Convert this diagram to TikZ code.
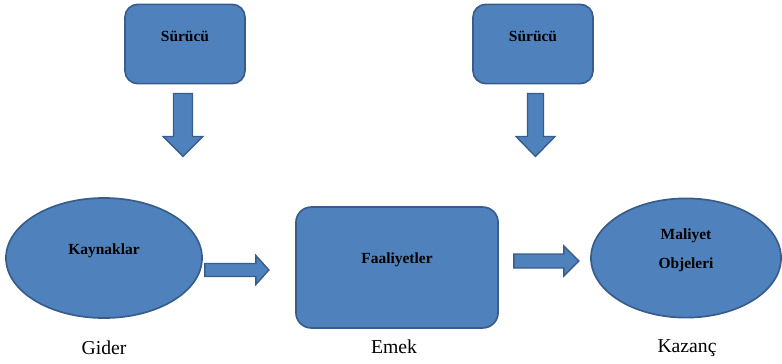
\documentclass[tikz,border=0pt]{standalone}
\usepackage{fontspec}
\setmainfont{Liberation Serif}
\usetikzlibrary{shapes.geometric,calc}
\definecolor{officeblue}{RGB}{79,129,189}
\definecolor{officeedge}{RGB}{56,93,138}

\tikzset{
  shapebase/.style={fill=officeblue,draw=officeedge,line width=1.2pt,inner sep=0pt},
  surbox/.style={shapebase,rectangle,rounded corners=0.32cm,minimum width=3cm,minimum height=1.98cm},
  actbox/.style={shapebase,rectangle,rounded corners=0.38cm,minimum width=5.05cm,minimum height=3.02cm},
  oval/.style={shapebase,ellipse},
  boxtext/.style={font=\fontsize{11}{20.6}\selectfont\bfseries,align=center,yshift=0.19cm},
  undertext/.style={font=\fontsize{14}{16}\selectfont},
  blockarrow/.style={fill=officeblue,draw=officeedge,line width=1pt,line join=miter}
}

\begin{document}
\begin{tikzpicture}[x=0.025cm,y=-0.025cm]
\useasboundingbox (0,0) rectangle (782,363);

% Drivers on top
\node[surbox,label={[boxtext]center:Sürücü}] (sur1) at (185,44) {};
\node[surbox,label={[boxtext]center:Sürücü}] (sur2) at (533,44) {};

% Main chain
\node[oval,minimum width=4.9cm,minimum height=3cm,label={[boxtext]center:Kaynaklar}] (kay) at (104,258) {};
\node[actbox,label={[boxtext]center:Faaliyetler}] (faal) at (397,267.5) {};
\node[oval,minimum width=4.75cm,minimum height=2.98cm,label={[boxtext]center:Maliyet\\Objeleri}] (obj) at (686,258) {};

% Words below
\node[undertext] (gider) at (104,348) {Gider};
\node[undertext] (emek) at (394,347) {Emek};
\node[undertext] (kazanc) at (687,348) {Kazanç};

% Down arrows
\coordinate (d1) at ($(sur1.south)+(-2,9)$);
\coordinate (d2) at ($(sur2.south)+(2.5,9)$);
\draw[blockarrow] (d1) ++(-9.5,0) -- ++(19,0) -- ++(0,43) -- ++(10.5,0) -- ++(-20,20)
  -- ++(-20,-20) -- ++(10.5,0) -- cycle;
\draw[blockarrow] (d2) ++(-8,0) -- ++(16,0) -- ++(0,43) -- ++(11.5,0) -- ++(-19.5,20)
  -- ++(-19.5,-20) -- ++(11.5,0) -- cycle;

% Right arrows
\coordinate (r1) at ($(kay.east)+(2,12)$);
\coordinate (r2) at ($(faal.east)+(15,-6.5)$);
\draw[blockarrow] (r1) ++(0,-6.5) -- ++(51,0) -- ++(0,-8) -- ++(13,14.5) -- ++(-13,14.5)
  -- ++(0,-8) -- ++(-51,0) -- cycle;
\draw[blockarrow] (r2) ++(0,-7) -- ++(50,0) -- ++(0,-8) -- ++(15,15) -- ++(-15,15)
  -- ++(0,-8) -- ++(-50,0) -- cycle;

\end{tikzpicture}
\end{document}
